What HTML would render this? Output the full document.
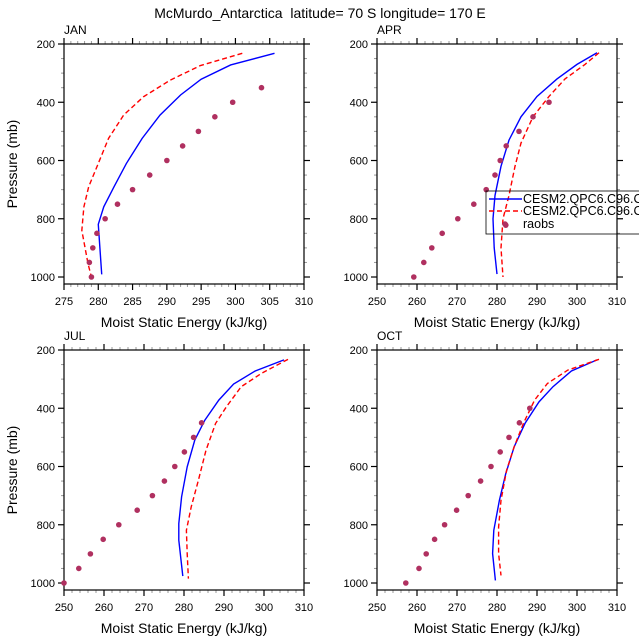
<!DOCTYPE html>
<html><head><meta charset="utf-8"><style>
html,body{margin:0;padding:0;background:#fff;}
svg{display:block;font-family:"Liberation Sans",sans-serif;}
</style></head><body>
<svg id="c" width="639" height="639" viewBox="0 0 639 639">
<text x="320" y="18" text-anchor="middle" font-size="14" style="white-space:pre" xml:space="preserve">McMurdo_Antarctica  latitude= 70 S longitude= 170 E</text>
</svg>
<script>
const panelNames=["JAN","APR","JUL","OCT"];
const xDomains=[[275,310],[250,310],[250,310],[250,310]];
const xTickStep=[5,10,10,10];
const xMinorStep=[1,2,2,2];
const yTicks=[200,400,600,800,1000];
const raobP=[1000,950,900,850,800,750,700,650,600,550,500,450,400,350];
const raobJAN=[279,278.7,279.2,279.8,281,282.8,285,287.5,290,292.3,294.6,297,299.6,303.8];
const raobAPR=[259.2,261.7,263.7,266.3,270.2,274.2,277.3,279.5,280.8,282.3,285.5,289,293];
const raobAPRextraP=[822];
const raobAPRextraX=[282.2];
const raobJUL=[250,253.7,256.6,259.8,263.7,268.3,272.1,275.1,277.7,280.1,282.4,284.4];
const raobOCT=[257.2,260.5,262.3,264.4,266.9,269.9,272.8,275.9,278.5,280.8,283,285.6,288.2];
const blueP_JAN=[232,272,321,375,444,524,610,690,759,819,991];
const blueX_JAN=[305.7,299.3,295,292,289,286.4,284.1,282.3,280.8,280,280.5];
const redP_JAN=[232,274,324,381,444,524,610,690,759,840,954,1000];
const redX_JAN=[301,294.9,290.5,286.6,283.7,281.5,280,278.6,277.9,277.6,278.5,279];
const blueP_APR=[230,270,320,380,450,530,620,720,800,900,990];
const blueX_APR=[305,300,295,290,286,283,281,279.5,279,279.3,280];
const redP_APR=[230,270,320,380,450,540,620,720,800,900,1000];
const redX_APR=[305.5,302,297,293,289,286,284.5,283,281.5,281,281.5];
const blueP_JUL=[234,272,317,372,441,509,601,704,796,853,976];
const blueX_JUL=[305,297.8,292.4,288.7,285.2,282.7,280.8,279.4,278.7,278.7,279.7];
const redP_JUL=[232,280,326,395,452,544,647,739,819,899,985];
const redX_JUL=[306,299.4,294.3,290.6,287.9,285.5,283.6,281.8,280.6,280.8,281.1];
const blueP_OCT=[234,272,326,378,452,532,624,716,819,899,991];
const blueX_OCT=[305,298.6,294,290.5,287,284.3,282.2,280.6,279.2,278.9,279.6];
const redP_OCT=[232,269,315,372,452,532,613,716,808,899,974];
const redX_OCT=[305.5,297.7,292.6,289.4,286.6,284.3,282.4,281,280.4,280.4,281];
const legendLabels=["CESM2.QPC6.C96.C","CESM2.QPC6.C96.C","raobs"];

const NS="http://www.w3.org/2000/svg";
const svg=document.getElementById("c");
function mk(tag,attrs,parent){const e=document.createElementNS(NS,tag);for(const k in attrs)e.setAttribute(k,attrs[k]);(parent||svg).appendChild(e);return e;}
const series=[
 [raobJAN,blueP_JAN,blueX_JAN,redP_JAN,redX_JAN],
 [raobAPR,blueP_APR,blueX_APR,redP_APR,redX_APR],
 [raobJUL,blueP_JUL,blueX_JUL,redP_JUL,redX_JUL],
 [raobOCT,blueP_OCT,blueX_OCT,redP_OCT,redX_OCT]];
const boxes=[[64,44],[377,44],[64,350],[377,350]];
const W=240,H=240,PMIN=200,PMAX=1024;
for(let i=0;i<4;i++){
 const [L,T]=boxes[i];const [x0,x1]=xDomains[i];
 const g=mk("g",{});
 
 
 const sx=v=>L+(v-x0)/(x1-x0)*W;
 const sy=p=>T+(p-PMIN)/(PMAX-PMIN)*H;
 for(let p=250;p<=1000;p+=50){if(p%200===0)continue;const y=sy(p);
  mk("line",{x1:L-3,x2:L,y1:y,y2:y,stroke:"#999","stroke-width":1},g);
  mk("line",{x1:L+W,x2:L+W+3,y1:y,y2:y,stroke:"#999","stroke-width":1},g);}
 for(const p of yTicks){const y=sy(p);
  mk("line",{x1:L-6,x2:L,y1:y,y2:y,stroke:"#000","stroke-width":1.2},g);
  mk("line",{x1:L+W,x2:L+W+6,y1:y,y2:y,stroke:"#000","stroke-width":1.2},g);
  const t=mk("text",{x:L-9,y:y+4,"text-anchor":"end","font-size":11},g);t.textContent=p;
  
  }
 for(let v=x0;v<=x1+1e-6;v+=xMinorStep[i]){const x=sx(v);
  if(Math.abs((v-x0)%xTickStep[i])<1e-6||Math.abs((v-x0)%xTickStep[i]-xTickStep[i])<1e-6)continue;
  mk("line",{x1:x,x2:x,y1:T-3,y2:T,stroke:"#999","stroke-width":1},g);
  mk("line",{x1:x,x2:x,y1:T+H,y2:T+H+3,stroke:"#999","stroke-width":1},g);}
 for(let v=x0;v<=x1+1e-6;v+=xTickStep[i]){const x=sx(v);
  mk("line",{x1:x,x2:x,y1:T-6,y2:T,stroke:"#000","stroke-width":1.2},g);
  mk("line",{x1:x,x2:x,y1:T+H,y2:T+H+6,stroke:"#000","stroke-width":1.2},g);
  const t=mk("text",{x:x,y:T+H+21,"text-anchor":"middle","font-size":11},g);t.textContent=v;
  
  }
 mk("rect",{x:L,y:T,width:W,height:H,fill:"none",stroke:"#000","stroke-width":1.2},g);
 const pl=mk("text",{x:L,y:T-10,"font-size":12},g);pl.textContent=panelNames[i];
 
 
 const xl=mk("text",{x:L+W/2,y:T+H+43,"text-anchor":"middle","font-size":14},g);xl.textContent="Moist Static Energy (kJ/kg)";
 
 
 if(i%2===0){const yl=mk("text",{x:0,y:0,"text-anchor":"middle","font-size":14,transform:`translate(17,${T+H/2}) rotate(-90)`},g);yl.textContent="Pressure (mb)";
  
  }
 const [ro,bp,bx,rp,rx]=series[i];
 const bl=mk("polyline",{points:bp.map((p,k)=>sx(bx[k])+","+sy(p)).join(" "),fill:"none",stroke:"#0000ff","stroke-width":1.4},g);
 
 
 const rl=mk("polyline",{points:rp.map((p,k)=>sx(rx[k])+","+sy(p)).join(" "),fill:"none",stroke:"#ff0000","stroke-width":1.4,"stroke-dasharray":"5,3"},g);
 
 
 ro.forEach((v,k)=>{const c=mk("circle",{cx:sx(v),cy:sy(raobP[k]),r:2.8,fill:"#b03060"},g);
  
  });
 if(i===1){raobAPRextraX.forEach((v,k)=>{const c=mk("circle",{cx:sx(v),cy:sy(raobAPRextraP[k]),r:2.8,fill:"#b03060"},g);
  
  });}
}
const lg=mk("g",{});


mk("rect",{x:486,y:191,width:160,height:43,fill:"none",stroke:"#000","stroke-width":0.8},lg);
const ly=[199,211,224];
mk("line",{x1:489,x2:522,y1:ly[0],y2:ly[0],stroke:"#0000ff","stroke-width":1.4},lg);
mk("line",{x1:489,x2:522,y1:ly[1],y2:ly[1],stroke:"#ff0000","stroke-width":1.4,"stroke-dasharray":"5,3"},lg);
mk("circle",{cx:505,cy:ly[2],r:2.8,fill:"#b03060"},lg);
legendLabels.forEach((s,k)=>{const t=mk("text",{x:523,y:ly[k]+4,"font-size":12.5},lg);t.textContent=s;
 
 });
</script>
</body></html>
